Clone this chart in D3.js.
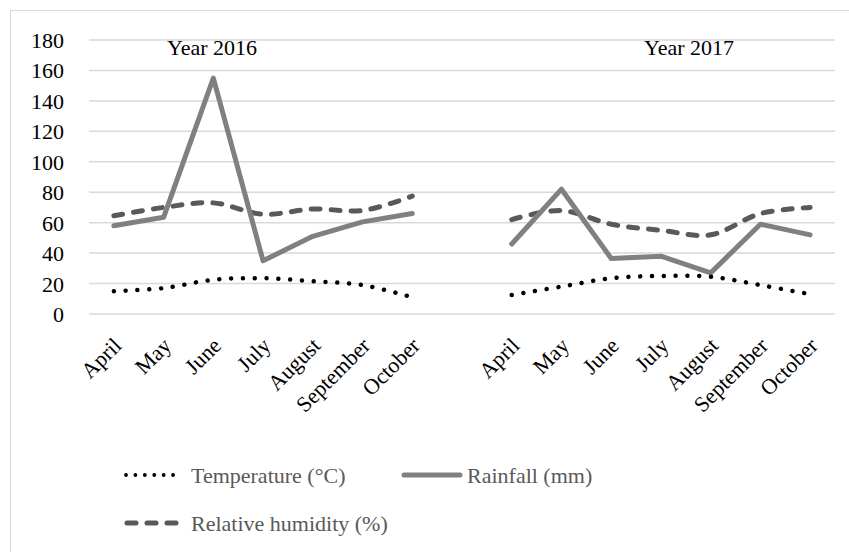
<!DOCTYPE html>
<html>
<head>
<meta charset="utf-8">
<script src="https://cdn.jsdelivr.net/npm/d3@7"></script>
<style>
  html, body { margin: 0; padding: 0; background: #fff; }
  svg { display: block; }
  svg text { font-family: "Liberation Serif", "Times New Roman", serif !important; }
</style>
</head>
<body>
<script>
// ---- Data ----
const months = ["April", "May", "June", "July", "August", "September", "October"];
const categories = [...months, "", ...months];
const yTicks = [0, 20, 40, 60, 80, 100, 120, 140, 160, 180];
const yearLabels = ["Year 2016", "Year 2017"];

const temperature2016 = [15, 17, 22.5, 23.5, 21.5, 19, 11];
const temperature2017 = [12.5, 18, 23.5, 25, 24.5, 19, 13];
const rainfall2016 = [58, 63.5, 155, 35, 51, 60.5, 66];
const rainfall2017 = [46, 82, 36.5, 38, 27, 59, 52];
const humidity2016 = [64.5, 70, 73, 65.5, 69, 68, 77.5];
const humidity2017 = [62, 68, 59, 55, 52, 66, 70];

const legendLabels = ["Temperature (°C)", "Rainfall (mm)", "Relative humidity (%)"];

// ---- Layout ----
const W = 849, H = 552;
const FS = 22;
const svg = d3.select("body").append("svg").attr("width", W).attr("height", H);

svg.append("rect").attr("x", 10.5).attr("y", 10.5).attr("width", W + 10).attr("height", H + 10)
  .attr("fill", "none").attr("stroke", "#d9d9d9").attr("stroke-width", 1);

const x = d3.scalePoint().domain(d3.range(categories.length)).range([89, 835]).padding(0.5);
const y = d3.scaleLinear().domain([0, 180]).range([314, 40]);

// gridlines
svg.append("g").selectAll("line").data(yTicks).join("line")
  .attr("x1", 89).attr("x2", 835)
  .attr("y1", d => y(d)).attr("y2", d => y(d))
  .attr("stroke", "#d9d9d9").attr("stroke-width", 1.5);

// y axis labels
const yAxis = d3.axisLeft(y).tickValues(yTicks).tickSize(0).tickPadding(0);
const gy = svg.append("g").attr("transform", "translate(64,0)").call(yAxis);
gy.attr("font-family", null).attr("font-size", null);
gy.select(".domain").remove();
gy.selectAll("text").attr("font-size", FS).attr("fill", "#000").attr("dy", "0.34em");

// x labels
const gx = svg.append("g");
gx.selectAll("text").data(categories.map((c, i) => ({ c, i })).filter(d => d.c))
  .join("text")
  .attr("transform", d => `translate(${x(d.i) + 9},${347}) rotate(-45)`)
  .attr("text-anchor", "end")
  .attr("font-size", FS)
  .attr("fill", "#000")
  .text(d => d.c);

// lines
const idx2016 = d3.range(0, 7);
const idx2017 = d3.range(8, 15);

function drawLine(vals, idxs, style, curve) {
  const line = d3.line().x((d, i) => x(idxs[i])).y(d => y(d)).curve(curve);
  const p = svg.append("path").datum(vals).attr("d", line).attr("fill", "none");
  Object.entries(style).forEach(([k, v]) => p.attr(k, v));
}

const humStyle = { stroke: "#595959", "stroke-width": 5, "stroke-dasharray": "9 11", "stroke-linecap": "round" };
const rainStyle = { stroke: "#808080", "stroke-width": 5, "stroke-linecap": "round", "stroke-linejoin": "round" };
const tempStyle = { stroke: "#000", "stroke-width": 4.5, "stroke-dasharray": "0.01 11.8", "stroke-linecap": "round" };

drawLine(humidity2016, idx2016, humStyle, d3.curveCatmullRom.alpha(0.5));
drawLine(humidity2017, idx2017, humStyle, d3.curveCatmullRom.alpha(0.5));
drawLine(rainfall2016, idx2016, rainStyle, d3.curveLinear);
drawLine(rainfall2017, idx2017, rainStyle, d3.curveLinear);
drawLine(temperature2016, idx2016, tempStyle, d3.curveCatmullRom.alpha(0.5));
drawLine(temperature2017, idx2017, tempStyle, d3.curveCatmullRom.alpha(0.5));

// year labels
svg.append("text").attr("x", 212).attr("y", 55).attr("text-anchor", "middle")
  .attr("font-size", FS).attr("fill", "#000").text(yearLabels[0]);
svg.append("text").attr("x", 689).attr("y", 55).attr("text-anchor", "middle")
  .attr("font-size", FS).attr("fill", "#000").text(yearLabels[1]);

// legend
const lg = svg.append("g");
lg.append("line").attr("x1", 126).attr("x2", 178).attr("y1", 475).attr("y2", 475)
  .attr("stroke", "#000").attr("stroke-width", 3.8).attr("stroke-dasharray", "0.01 9.4").attr("stroke-linecap", "round");
lg.append("text").attr("x", 191).attr("y", 483).attr("font-size", FS).attr("fill", "#595959").text(legendLabels[0]);
lg.append("line").attr("x1", 404).attr("x2", 460).attr("y1", 475).attr("y2", 475)
  .attr("stroke", "#808080").attr("stroke-width", 5).attr("stroke-linecap", "round");
lg.append("text").attr("x", 467).attr("y", 483).attr("font-size", FS).attr("fill", "#595959").text(legendLabels[1]);
lg.append("line").attr("x1", 127).attr("x2", 178).attr("y1", 523).attr("y2", 523)
  .attr("stroke", "#595959").attr("stroke-width", 5).attr("stroke-dasharray", "9 11").attr("stroke-linecap", "round");
lg.append("text").attr("x", 191).attr("y", 531).attr("font-size", FS).attr("fill", "#595959").text(legendLabels[2]);
</script>
</body>
</html>
